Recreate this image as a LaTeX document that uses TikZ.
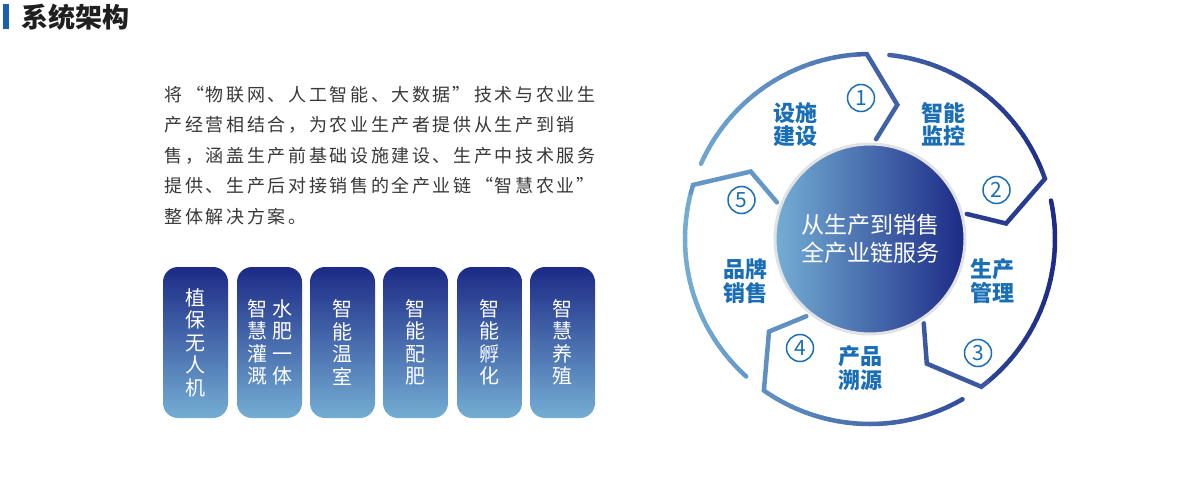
\documentclass[tikz,border=0pt]{standalone}
\usepackage{fontspec}
\setmainfont{Noto Sans CJK SC}
\definecolor{navy}{HTML}{1C2A86}
\definecolor{sky}{HTML}{74AED4}
\definecolor{lblue}{HTML}{1A6EB6}
\definecolor{txtgray}{HTML}{383838}
\definecolor{titlebar}{HTML}{1A5FB4}
\definecolor{ringgray}{HTML}{E2E2E2}
\newlength\cpitch
\setlength\cpitch{20.65pt}
\makeatletter
\def\gridtext#1{\grid@loop#1\@nil}
\def\grid@loop#1{\ifx#1\@nil\else\makebox[\cpitch]{#1}\expandafter\grid@loop\fi}
\makeatother
\newcommand\qopen{\makebox[\cpitch][r]{“}}
\newcommand\qclose{\makebox[\cpitch][l]{”}}

\tikzset{
  para/.style={anchor=west, inner sep=0pt, text=txtgray, font=\fontsize{18pt}{20pt}\selectfont},
  vbox/.style={rounded corners=15pt, top color=navy, bottom color=sky, minimum width=65pt, minimum height=151pt, inner sep=0pt, text=white, align=center, font=\fontsize{20pt}{22.5pt}\selectfont},
  seglabel/.style={text=lblue, align=center, inner sep=0pt, font=\bfseries\fontsize{22pt}{23.5pt}\selectfont},
  numcirc/.style={circle, draw=lblue, line width=1.5pt, minimum size=27pt, inner sep=0pt, text=lblue, font=\fontsize{21pt}{21pt}\selectfont},
  ringpiece/.style={line width=4.5pt, line cap=round},
  chevron/.style={line width=4.5pt, line cap=round, line join=miter},
}

\begin{document}
\begin{tikzpicture}[x=1pt,y=-1pt]
\useasboundingbox (0,0) rectangle (1200,495);
\fill[white] (0,0) rectangle (1200,495);

% title
\fill[titlebar] (3,4) rectangle (8.5,29.5);
\node[anchor=west, inner sep=0pt, text=black!88, font=\bfseries\fontsize{27pt}{27pt}\selectfont] (title) at (21,17) {系统架构};

% paragraph
\node[para] (p1) at (163,95) {\gridtext{将}\qopen\gridtext{物联网、人工智能、大数据}\qclose\gridtext{技术与农业生}};
\node[para] (p2) at (163,125.3) {\gridtext{产经营相结合，为农业生产者提供从生产到销}};
\node[para] (p3) at (163,155.6) {\gridtext{售，涵盖生产前基础设施建设、生产中技术服务}};
\node[para] (p4) at (163,186) {\gridtext{提供、生产后对接销售的全产业链}\qopen\gridtext{智慧农业}\qclose};
\node[para] (p5) at (163,216.3) {\gridtext{整体解决方案。}};

% boxes
\node[vbox] (b1) at (195.5,342.5) {植\\保\\无\\人\\机};
\node[vbox] (b2) at (269.5,342.5) {智\hspace{5pt}水\\慧\hspace{5pt}肥\\灌\hspace{5pt}一\\溉\hspace{5pt}体};
\node[vbox] (b3) at (342.5,342.5) {智\\能\\温\\室};
\node[vbox] (b4) at (415.5,342.5) {智\\能\\配\\肥};
\node[vbox] (b5) at (489.5,342.5) {智\\能\\孵\\化};
\node[vbox] (b6) at (562.5,342.5) {智\\慧\\养\\殖};

% ring (horizontal gradient, drawn piecewise)
\begin{scope}[shift={(870,239)}, yscale=-1]
\foreach \o in {91,19,-53,-125,-197}{
  \foreach \i in {0,...,24}{
    \pgfmathsetmacro\a{\o+65-\i*2.5}
    \pgfmathsetmacro\b{\a-2.5}
    \pgfmathsetmacro\p{(185*cos(\a-1.25)+188)/3.76}
    \draw[ringpiece, draw=navy!\p!sky] (\a:185) arc[start angle=\a, end angle=\b, radius=185];
  }
  \pgfmathsetmacro\p{(137*cos(\o-12.5)+188)/3.76}
  \draw[chevron, draw=navy!\p!sky] ({\o+2.5}:185) arc[start angle={\o+2.5}, end angle=\o, radius=185]
    -- ({\o-12.5}:137) -- ({\o-4.5}:100);
}
\end{scope}

% hub
\node[circle, minimum size=190pt, inner sep=0pt, draw=ringgray, line width=3pt, left color=sky, right color=navy, text=white, align=center, font=\fontsize{23pt}{28pt}\selectfont] (hub) at (870,239) {从生产到销售\\全产业链服务};

% labels
\node[seglabel] (l1) at (795,124.5) {设施\\建设};
\node[seglabel] (l2) at (943,124.5) {智能\\监控};
\node[seglabel] (l3) at (992.5,281) {生产\\管理};
\node[seglabel] (l4) at (860,368) {产品\\溯源};
\node[seglabel] (l5) at (745,281) {品牌\\销售};

% numbers
\node[numcirc] (n1) at (861,98) {1};
\node[numcirc] (n2) at (996.5,190) {2};
\node[numcirc] (n3) at (978,353) {3};
\node[numcirc] (n4) at (800,348) {4};
\node[numcirc] (n5) at (741.5,200) {5};
\end{tikzpicture}
\end{document}
